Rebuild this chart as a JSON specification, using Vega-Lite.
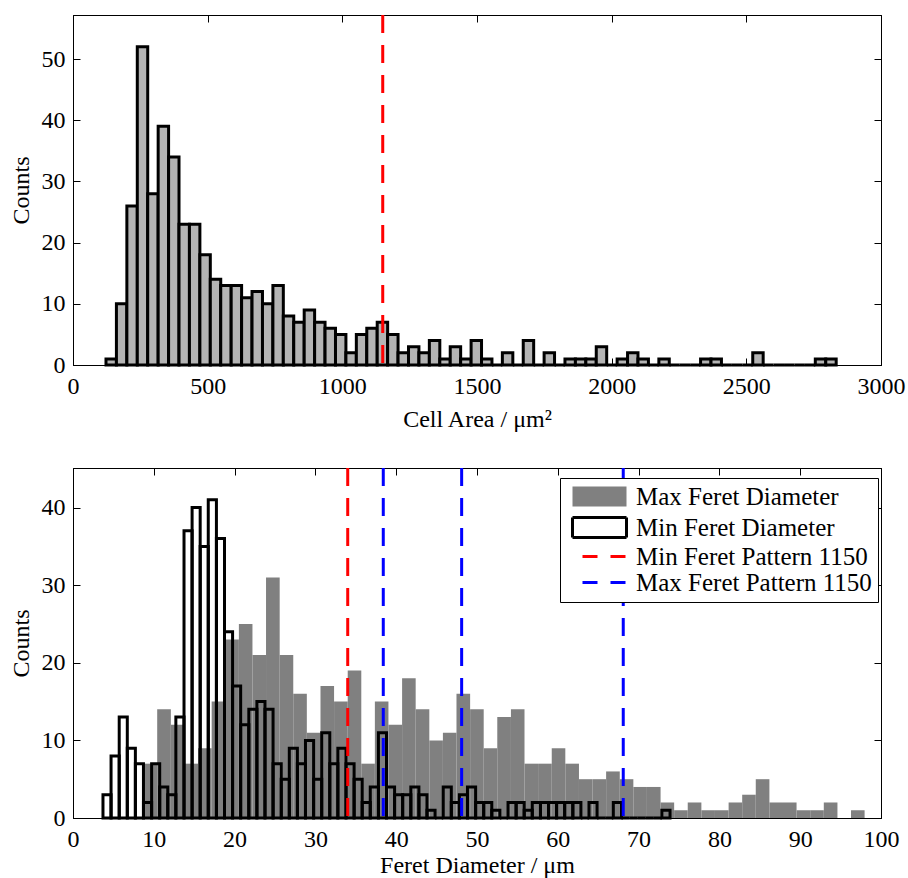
{
  "$schema": "https://vega.github.io/schema/vega-lite/v6.json",
  "background": "white",
  "padding": {"left": 8, "top": 13, "right": 5, "bottom": 0},
  "datasets": {
    "area": [
      {"lo":122.5,"hi":161.2,"n":1},{"lo":161.2,"hi":200.0,"n":10},{"lo":200.0,"hi":238.7,"n":26},{"lo":238.7,"hi":277.4,"n":52},
      {"lo":277.4,"hi":316.2,"n":28},{"lo":316.2,"hi":354.9,"n":39},{"lo":354.9,"hi":393.6,"n":34},{"lo":393.6,"hi":432.3,"n":23},
      {"lo":432.3,"hi":471.1,"n":23},{"lo":471.1,"hi":509.8,"n":18},{"lo":509.8,"hi":548.5,"n":14},{"lo":548.5,"hi":587.3,"n":13},
      {"lo":587.3,"hi":626.0,"n":13},{"lo":626.0,"hi":664.7,"n":11},{"lo":664.7,"hi":703.5,"n":12},{"lo":703.5,"hi":742.2,"n":10},
      {"lo":742.2,"hi":780.9,"n":13},{"lo":780.9,"hi":819.6,"n":8},{"lo":819.6,"hi":858.4,"n":7},{"lo":858.4,"hi":897.1,"n":9},
      {"lo":897.1,"hi":935.8,"n":7},{"lo":935.8,"hi":974.6,"n":6},{"lo":974.6,"hi":1013.3,"n":5},{"lo":1013.3,"hi":1052.0,"n":2},
      {"lo":1052.0,"hi":1090.8,"n":5},{"lo":1090.8,"hi":1129.5,"n":6},{"lo":1129.5,"hi":1168.2,"n":7},{"lo":1168.2,"hi":1206.9,"n":5},
      {"lo":1206.9,"hi":1245.7,"n":2},{"lo":1245.7,"hi":1284.4,"n":3},{"lo":1284.4,"hi":1323.1,"n":2},{"lo":1323.1,"hi":1361.9,"n":4},
      {"lo":1361.9,"hi":1400.6,"n":1},{"lo":1400.6,"hi":1439.3,"n":3},{"lo":1439.3,"hi":1478.1,"n":1},{"lo":1478.1,"hi":1516.8,"n":4},
      {"lo":1516.8,"hi":1555.5,"n":1},{"lo":1555.5,"hi":1594.2,"n":0},{"lo":1594.2,"hi":1633.0,"n":2},{"lo":1633.0,"hi":1671.7,"n":0},
      {"lo":1671.7,"hi":1710.4,"n":4},{"lo":1710.4,"hi":1749.2,"n":0},{"lo":1749.2,"hi":1787.9,"n":2},{"lo":1787.9,"hi":1826.6,"n":0},
      {"lo":1826.6,"hi":1865.4,"n":1},{"lo":1865.4,"hi":1904.1,"n":1},{"lo":1904.1,"hi":1942.8,"n":1},{"lo":1942.8,"hi":1981.5,"n":3},
      {"lo":1981.5,"hi":2020.3,"n":0},{"lo":2020.3,"hi":2059.0,"n":1},{"lo":2059.0,"hi":2097.7,"n":2},{"lo":2097.7,"hi":2136.5,"n":1},
      {"lo":2136.5,"hi":2175.2,"n":0},{"lo":2175.2,"hi":2213.9,"n":1},{"lo":2213.9,"hi":2252.7,"n":0},{"lo":2252.7,"hi":2291.4,"n":0},
      {"lo":2291.4,"hi":2330.1,"n":0},{"lo":2330.1,"hi":2368.8,"n":1},{"lo":2368.8,"hi":2407.6,"n":1},{"lo":2407.6,"hi":2446.3,"n":0},
      {"lo":2446.3,"hi":2485.0,"n":0},{"lo":2485.0,"hi":2523.8,"n":0},{"lo":2523.8,"hi":2562.5,"n":2},{"lo":2562.5,"hi":2601.2,"n":0},
      {"lo":2601.2,"hi":2640.0,"n":0},{"lo":2640.0,"hi":2678.7,"n":0},{"lo":2678.7,"hi":2717.4,"n":0},{"lo":2717.4,"hi":2756.1,"n":0},
      {"lo":2756.1,"hi":2794.9,"n":1},{"lo":2794.9,"hi":2833.6,"n":1}
    ],
    "maxFeret": [
      {"lo":8.74,"hi":10.42,"n":7},{"lo":10.42,"hi":12.11,"n":14},{"lo":12.11,"hi":13.79,"n":12},{"lo":13.79,"hi":15.47,"n":7},
      {"lo":15.47,"hi":17.16,"n":9},{"lo":17.16,"hi":18.84,"n":15},{"lo":18.84,"hi":20.53,"n":23},{"lo":20.53,"hi":22.21,"n":25},
      {"lo":22.21,"hi":23.89,"n":21},{"lo":23.89,"hi":25.58,"n":31},{"lo":25.58,"hi":27.26,"n":21},{"lo":27.26,"hi":28.94,"n":16},
      {"lo":28.94,"hi":30.63,"n":11},{"lo":30.63,"hi":32.31,"n":17},{"lo":32.31,"hi":34.00,"n":15},{"lo":34.00,"hi":35.68,"n":19},
      {"lo":35.68,"hi":37.36,"n":7},{"lo":37.36,"hi":39.04,"n":15},{"lo":39.04,"hi":40.73,"n":12},{"lo":40.73,"hi":42.41,"n":18},
      {"lo":42.41,"hi":44.10,"n":14},{"lo":44.10,"hi":45.78,"n":10},{"lo":45.78,"hi":47.46,"n":11},{"lo":47.46,"hi":49.15,"n":16},
      {"lo":49.15,"hi":50.83,"n":14},{"lo":50.83,"hi":52.51,"n":9},{"lo":52.51,"hi":54.20,"n":13},{"lo":54.20,"hi":55.88,"n":14},
      {"lo":55.88,"hi":57.56,"n":7},{"lo":57.56,"hi":59.25,"n":7},{"lo":59.25,"hi":60.93,"n":9},{"lo":60.93,"hi":62.62,"n":7},
      {"lo":62.62,"hi":64.30,"n":5},{"lo":64.30,"hi":65.98,"n":5},{"lo":65.98,"hi":67.67,"n":6},{"lo":67.67,"hi":69.35,"n":5},
      {"lo":69.35,"hi":71.03,"n":4},{"lo":71.03,"hi":72.72,"n":4},{"lo":72.72,"hi":74.40,"n":2},{"lo":74.40,"hi":76.08,"n":1},
      {"lo":76.08,"hi":77.77,"n":2},{"lo":77.77,"hi":79.45,"n":1},{"lo":79.45,"hi":81.14,"n":1},{"lo":81.14,"hi":82.82,"n":2},
      {"lo":82.82,"hi":84.50,"n":3},{"lo":84.50,"hi":86.19,"n":5},{"lo":86.19,"hi":87.87,"n":2},{"lo":87.87,"hi":89.55,"n":2},
      {"lo":89.55,"hi":91.24,"n":1},{"lo":91.24,"hi":92.92,"n":1},{"lo":92.92,"hi":94.61,"n":2},{"lo":94.61,"hi":96.29,"n":0},
      {"lo":96.29,"hi":97.97,"n":1}
    ],
    "minFeret": [
      {"lo":3.71,"hi":4.71,"n":3},{"lo":4.71,"hi":5.72,"n":8},{"lo":5.72,"hi":6.72,"n":13},{"lo":6.72,"hi":7.72,"n":9},
      {"lo":7.72,"hi":8.72,"n":7},{"lo":8.72,"hi":9.73,"n":2},{"lo":9.73,"hi":10.73,"n":7},{"lo":10.73,"hi":11.73,"n":4},
      {"lo":11.73,"hi":12.73,"n":3},{"lo":12.73,"hi":13.74,"n":13},{"lo":13.74,"hi":14.74,"n":37},{"lo":14.74,"hi":15.74,"n":40},
      {"lo":15.74,"hi":16.74,"n":35},{"lo":16.74,"hi":17.75,"n":41},{"lo":17.75,"hi":18.75,"n":36},{"lo":18.75,"hi":19.75,"n":24},
      {"lo":19.75,"hi":20.75,"n":17},{"lo":20.75,"hi":21.76,"n":12},{"lo":21.76,"hi":22.76,"n":14},{"lo":22.76,"hi":23.76,"n":15},
      {"lo":23.76,"hi":24.76,"n":14},{"lo":24.76,"hi":25.77,"n":7},{"lo":25.77,"hi":26.77,"n":5},{"lo":26.77,"hi":27.77,"n":9},
      {"lo":27.77,"hi":28.77,"n":7},{"lo":28.77,"hi":29.78,"n":10},{"lo":29.78,"hi":30.78,"n":5},{"lo":30.78,"hi":31.78,"n":11},
      {"lo":31.78,"hi":32.78,"n":7},{"lo":32.78,"hi":33.79,"n":9},{"lo":33.79,"hi":34.79,"n":7},{"lo":34.79,"hi":35.79,"n":5},
      {"lo":35.79,"hi":36.79,"n":2},{"lo":36.79,"hi":37.80,"n":4},{"lo":37.80,"hi":38.80,"n":11},{"lo":38.80,"hi":39.80,"n":4},
      {"lo":39.80,"hi":40.80,"n":3},{"lo":40.80,"hi":41.81,"n":3},{"lo":41.81,"hi":42.81,"n":4},{"lo":42.81,"hi":43.81,"n":3},
      {"lo":43.81,"hi":44.81,"n":1},{"lo":44.81,"hi":45.82,"n":0},{"lo":45.82,"hi":46.82,"n":4},{"lo":46.82,"hi":47.82,"n":2},
      {"lo":47.82,"hi":48.82,"n":3},{"lo":48.82,"hi":49.83,"n":4},{"lo":49.83,"hi":50.83,"n":2},{"lo":50.83,"hi":51.83,"n":2},
      {"lo":51.83,"hi":52.83,"n":1},{"lo":52.83,"hi":53.84,"n":0},{"lo":53.84,"hi":54.84,"n":2},{"lo":54.84,"hi":55.84,"n":2},
      {"lo":55.84,"hi":56.84,"n":1},{"lo":56.84,"hi":57.85,"n":2},{"lo":57.85,"hi":58.85,"n":2},{"lo":58.85,"hi":59.85,"n":2},
      {"lo":59.85,"hi":60.85,"n":2},{"lo":60.85,"hi":61.86,"n":2},{"lo":61.86,"hi":62.86,"n":2},{"lo":62.86,"hi":63.86,"n":0},
      {"lo":63.86,"hi":64.86,"n":2},{"lo":64.86,"hi":65.87,"n":0},{"lo":65.87,"hi":66.87,"n":0},{"lo":66.87,"hi":67.87,"n":2},
      {"lo":67.87,"hi":68.87,"n":0},{"lo":68.87,"hi":69.88,"n":0},{"lo":69.88,"hi":70.88,"n":0},{"lo":70.88,"hi":71.88,"n":0},
      {"lo":71.88,"hi":72.88,"n":0},{"lo":72.88,"hi":73.89,"n":1}
    ],
    "minPattern": [{"v":34.0}],
    "maxPattern": [{"v":38.4},{"v":48.1},{"v":68.1}],
    "legendItems": [
      {"s":"Max Feret Diameter"},
      {"s":"Min Feret Diameter"},
      {"s":"Min Feret Pattern 1150"},
      {"s":"Max Feret Pattern 1150"}
    ]
  },
  "spacing": 103,
  "bounds": "flush",
  "resolve": {
    "scale": {"fill": "independent", "stroke": "independent", "shape": "independent", "strokeDash": "independent"},
    "legend": {"fill": "independent", "stroke": "independent", "shape": "independent", "strokeDash": "independent"}
  },
  "vconcat": [
    {
      "width": 808,
      "height": 350,
      "layer": [
        {
          "data": {"name": "area"},
          "mark": {"type": "bar", "fill": "#b4b4b4", "stroke": "black", "strokeWidth": 3},
          "encoding": {
            "x": {"field": "lo", "type": "quantitative", "scale": {"domain": [0, 3000], "nice": false, "zero": false},
                  "axis": {"values": [0, 500, 1000, 1500, 2000, 2500, 3000], "format": "d", "title": "Cell Area / μm²", "labelFlush": false, "titlePadding": 9}},
            "x2": {"field": "hi"},
            "y": {"field": "n", "type": "quantitative", "scale": {"domain": [0, 57.2], "nice": false},
                  "axis": {"values": [0, 10, 20, 30, 40, 50], "title": "Counts", "titlePadding": 8}},
            "y2": {"datum": 0}
          }
        },
        {
          "data": {"values": [{"v": 1150}]},
          "mark": {"type": "rule", "stroke": "red", "strokeWidth": 3, "strokeDash": [18, 12]},
          "encoding": {
            "x": {"field": "v", "type": "quantitative",
                  "axis": {"orient": "top", "labels": false, "title": null, "values": [0, 500, 1000, 1500, 2000, 2500, 3000]}}
          }
        },
        {
          "data": {"values": [{"v": 0}]},
          "mark": {"type": "point", "opacity": 0},
          "encoding": {
            "x": {"field": "v", "type": "quantitative", "axis": null},
            "y": {"field": "v", "type": "quantitative",
                  "axis": {"orient": "right", "labels": false, "title": null, "values": [0, 10, 20, 30, 40, 50]}}
          }
        }
      ],
      "resolve": {"axis": {"x": "independent", "y": "independent"}}
    },
    {
      "width": 808,
      "height": 350,
      "layer": [
        {
          "data": {"name": "maxFeret"},
          "mark": {"type": "bar", "fill": "#808080", "strokeWidth": 0},
          "encoding": {
            "x": {"field": "lo", "type": "quantitative", "scale": {"domain": [0, 100], "nice": false, "zero": false},
                  "axis": {"values": [0, 10, 20, 30, 40, 50, 60, 70, 80, 90, 100], "format": "d", "title": "Feret Diameter / μm", "labelFlush": false, "titlePadding": 2}},
            "x2": {"field": "hi"},
            "y": {"field": "n", "type": "quantitative", "scale": {"domain": [0, 45.1], "nice": false},
                  "axis": {"values": [0, 10, 20, 30, 40], "title": "Counts", "titlePadding": 8}},
            "y2": {"datum": 0}
          }
        },
        {
          "data": {"name": "minFeret"},
          "mark": {"type": "bar", "filled": false, "stroke": "black", "strokeWidth": 3},
          "encoding": {
            "x": {"field": "lo", "type": "quantitative", "axis": null},
            "x2": {"field": "hi"},
            "y": {"field": "n", "type": "quantitative", "axis": null},
            "y2": {"datum": 0}
          }
        },
        {
          "data": {"name": "minPattern"},
          "mark": {"type": "rule", "stroke": "red", "strokeWidth": 3, "strokeDash": [18, 12]},
          "encoding": {
            "x": {"field": "v", "type": "quantitative",
                  "axis": {"orient": "top", "labels": false, "title": null, "values": [0, 10, 20, 30, 40, 50, 60, 70, 80, 90, 100]}}
          }
        },
        {
          "data": {"name": "maxPattern"},
          "mark": {"type": "rule", "stroke": "blue", "strokeWidth": 3, "strokeDash": [18, 12]},
          "encoding": {
            "x": {"field": "v", "type": "quantitative", "axis": null}
          }
        },
        {
          "data": {"values": [{"v": 0}]},
          "mark": {"type": "point", "opacity": 0},
          "encoding": {
            "x": {"field": "v", "type": "quantitative", "axis": null},
            "y": {"field": "v", "type": "quantitative",
                  "axis": {"orient": "right", "labels": false, "title": null, "values": [0, 10, 20, 30, 40]}}
          }
        },
        {
          "data": {"name": "legendItems"},
          "mark": {"type": "point", "opacity": 0},
          "encoding": {
            "fill": {
              "field": "s", "type": "nominal",
              "scale": {"domain": ["Max Feret Diameter", "Min Feret Diameter", "Min Feret Pattern 1150", "Max Feret Pattern 1150"],
                        "range": ["#808080", "white", "transparent", "transparent"]},
              "legend": {
                "title": null, "orient": "none", "legendX": 487, "legendY": 10,
                "strokeColor": "black", "fillColor": "white", "padding": 6,
                "labelFont": "Liberation Serif", "labelFontSize": 25, "labelColor": "black", "labelLimit": 400,
                "symbolSize": 400, "symbolStrokeWidth": 3, "symbolOpacity": 1, "symbolOffset": 4, "labelOffset": 41, "rowPadding": -2
              }
            },
            "stroke": {
              "field": "s", "type": "nominal",
              "scale": {"domain": ["Max Feret Diameter", "Min Feret Diameter", "Min Feret Pattern 1150", "Max Feret Pattern 1150"],
                        "range": ["transparent", "black", "red", "blue"]},
              "legend": {
                "title": null, "orient": "none", "legendX": 487, "legendY": 10,
                "strokeColor": "black", "fillColor": "white", "padding": 6,
                "labelFont": "Liberation Serif", "labelFontSize": 25, "labelColor": "black", "labelLimit": 400,
                "symbolSize": 400, "symbolStrokeWidth": 3, "symbolOpacity": 1, "symbolOffset": 4, "labelOffset": 41, "rowPadding": -2
              }
            },
            "shape": {
              "field": "s", "type": "nominal",
              "scale": {"domain": ["Max Feret Diameter", "Min Feret Diameter", "Min Feret Pattern 1150", "Max Feret Pattern 1150"],
                        "range": ["M-1,-1H4.4V1H-1Z", "M-1,-1H4.4V1H-1Z", "M0,0H4.4", "M0,0H4.4"]},
              "legend": {
                "title": null, "orient": "none", "legendX": 487, "legendY": 10,
                "strokeColor": "black", "fillColor": "white", "padding": 6,
                "labelFont": "Liberation Serif", "labelFontSize": 25, "labelColor": "black", "labelLimit": 400,
                "symbolSize": 400, "symbolStrokeWidth": 3, "symbolOpacity": 1, "symbolOffset": 4, "labelOffset": 41, "rowPadding": -2
              }
            },
            "strokeDash": {
              "field": "s", "type": "nominal",
              "scale": {"domain": ["Max Feret Diameter", "Min Feret Diameter", "Min Feret Pattern 1150", "Max Feret Pattern 1150"],
                        "range": [[1, 0], [1, 0], [15, 13], [15, 13]]},
              "legend": {
                "title": null, "orient": "none", "legendX": 487, "legendY": 10,
                "strokeColor": "black", "fillColor": "white", "padding": 6,
                "labelFont": "Liberation Serif", "labelFontSize": 25, "labelColor": "black", "labelLimit": 400,
                "symbolSize": 400, "symbolStrokeWidth": 3, "symbolOpacity": 1, "symbolOffset": 4, "labelOffset": 41, "rowPadding": -2
              }
            }
          }
        }
      ],
      "resolve": {"axis": {"x": "independent", "y": "independent"}}
    }
  ],
  "config": {
    "font": "Liberation Serif",
    "view": {"stroke": "black", "strokeWidth": 1},
    "axis": {
      "grid": false,
      "domainColor": "black",
      "domainWidth": 1,
      "tickColor": "black",
      "tickSize": -7,
      "tickWidth": 1,
      "labelFont": "Liberation Serif",
      "titleFont": "Liberation Serif",
      "labelFontSize": 24,
      "titleFontSize": 24,
      "labelColor": "black",
      "titleColor": "black",
      "titleFontWeight": "normal",
      "labelOverlap": false
    },
    "axisX": {"labelPadding": 16},
    "axisY": {"labelPadding": 15}
  }
}
